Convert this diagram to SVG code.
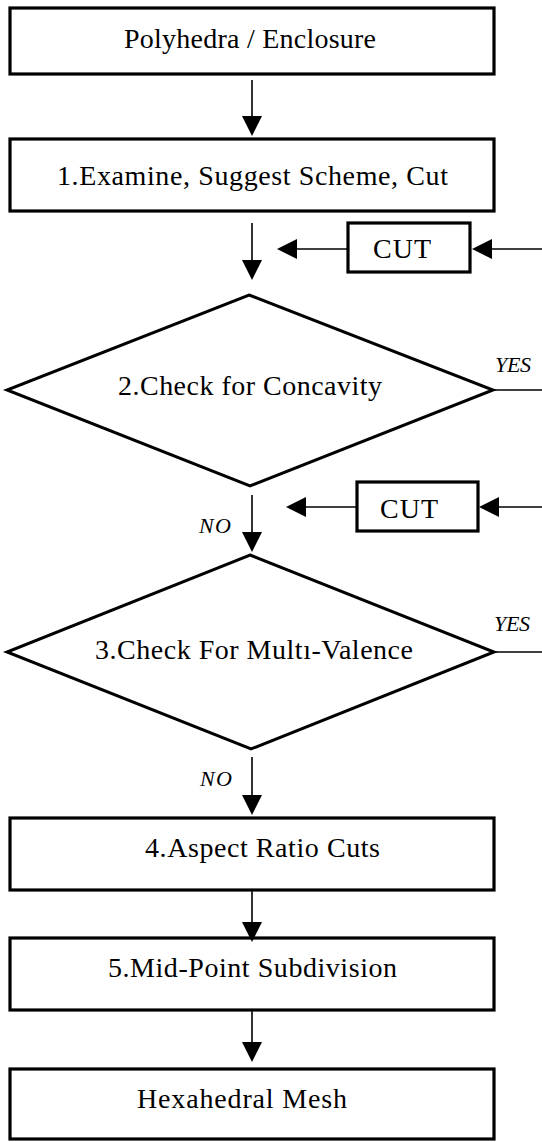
<svg xmlns="http://www.w3.org/2000/svg" width="542" height="1142" viewBox="0 0 542 1142">
<style>
.box{fill:#fff;stroke:#000;stroke-width:3.2}
.dia{fill:#fff;stroke:#000;stroke-width:3;stroke-linejoin:miter}
.lbl{font-family:"Liberation Serif","Times New Roman",serif;font-size:28px;fill:#000}
.cut{font-family:"Liberation Serif","Times New Roman",serif;font-size:28px;fill:#000}
.yn{font-family:"Liberation Serif","Times New Roman",serif;font-size:22px;font-style:italic;fill:#000}
.conn path{fill:none;stroke:#000;stroke-width:1.6}
.conn path.arr{marker-end:url(#ah)}
</style>
<defs>
<marker id="ah" markerUnits="userSpaceOnUse" viewBox="0 0 20 20" refX="18" refY="10" markerWidth="20" markerHeight="20" orient="auto">
<path d="M0,0 L20,10 L0,20 z" fill="#000"/>
</marker>
</defs>
<rect width="542" height="1142" fill="#fff"/>
<g id="n-polyhedra">
<rect class="box" x="10" y="8" width="484" height="66"/>
<text class="lbl" x="124" y="48" textLength="252">Polyhedra / Enclosure</text>
</g>
<g id="n-examine">
<rect class="box" x="10" y="139" width="484" height="72"/>
<text class="lbl" x="57" y="185" textLength="391">1.Examine, Suggest Scheme, Cut</text>
</g>
<g id="n-cut1">
<rect class="box" x="348" y="223" width="122" height="49"/>
<text class="cut" x="373" y="258" textLength="58">CUT</text>
</g>
<g id="n-concavity">
<polygon class="dia" points="249,295 493,390 250,486 7,390"/>
<text class="lbl" x="118" y="395" textLength="264">2.Check for Concavity</text>
</g>
<g id="n-cut2">
<rect class="box" x="357" y="482" width="121" height="49"/>
<text class="cut" x="380" y="518" textLength="58">CUT</text>
</g>
<g id="n-multivalence">
<polygon class="dia" points="250,555 494,652 251,749 7,652"/>
<text class="lbl" x="95" y="659" textLength="318">3.Check For Multı-Valence</text>
</g>
<g id="n-aspect">
<rect class="box" x="10" y="818" width="484" height="72"/>
<text class="lbl" x="145" y="857" textLength="235">4.Aspect Ratio Cuts</text>
</g>
<g id="n-midpoint">
<rect class="box" x="10" y="938" width="484" height="72"/>
<text class="lbl" x="108" y="977" textLength="289">5.Mid-Point Subdivision</text>
</g>
<g id="n-hexmesh">
<rect class="box" x="10" y="1069" width="484" height="70"/>
<text class="lbl" x="137" y="1108" textLength="210">Hexahedral Mesh</text>
</g>
<g id="connectors" class="conn">
<path class="arr" d="M252,80 V134"/>
<path class="arr" d="M252,223 V278"/>
<path class="arr" d="M348,249 H279"/>
<path class="arr" d="M542,249 H474"/>
<path d="M493,390 H542"/>
<path class="arr" d="M252,495 V550"/>
<path class="arr" d="M357,507 H288"/>
<path class="arr" d="M542,507 H481"/>
<path d="M494,652 H542"/>
<path class="arr" d="M252,757 V813"/>
<path class="arr" d="M252,890 V940"/>
<path class="arr" d="M252,1010 V1060"/>
<text class="yn" x="495" y="372" textLength="36">YES</text>
<text class="yn" x="494" y="631" textLength="36">YES</text>
<text class="yn" x="199" y="533" textLength="32">NO</text>
<text class="yn" x="200" y="786" textLength="32">NO</text>
</g>
</svg>
